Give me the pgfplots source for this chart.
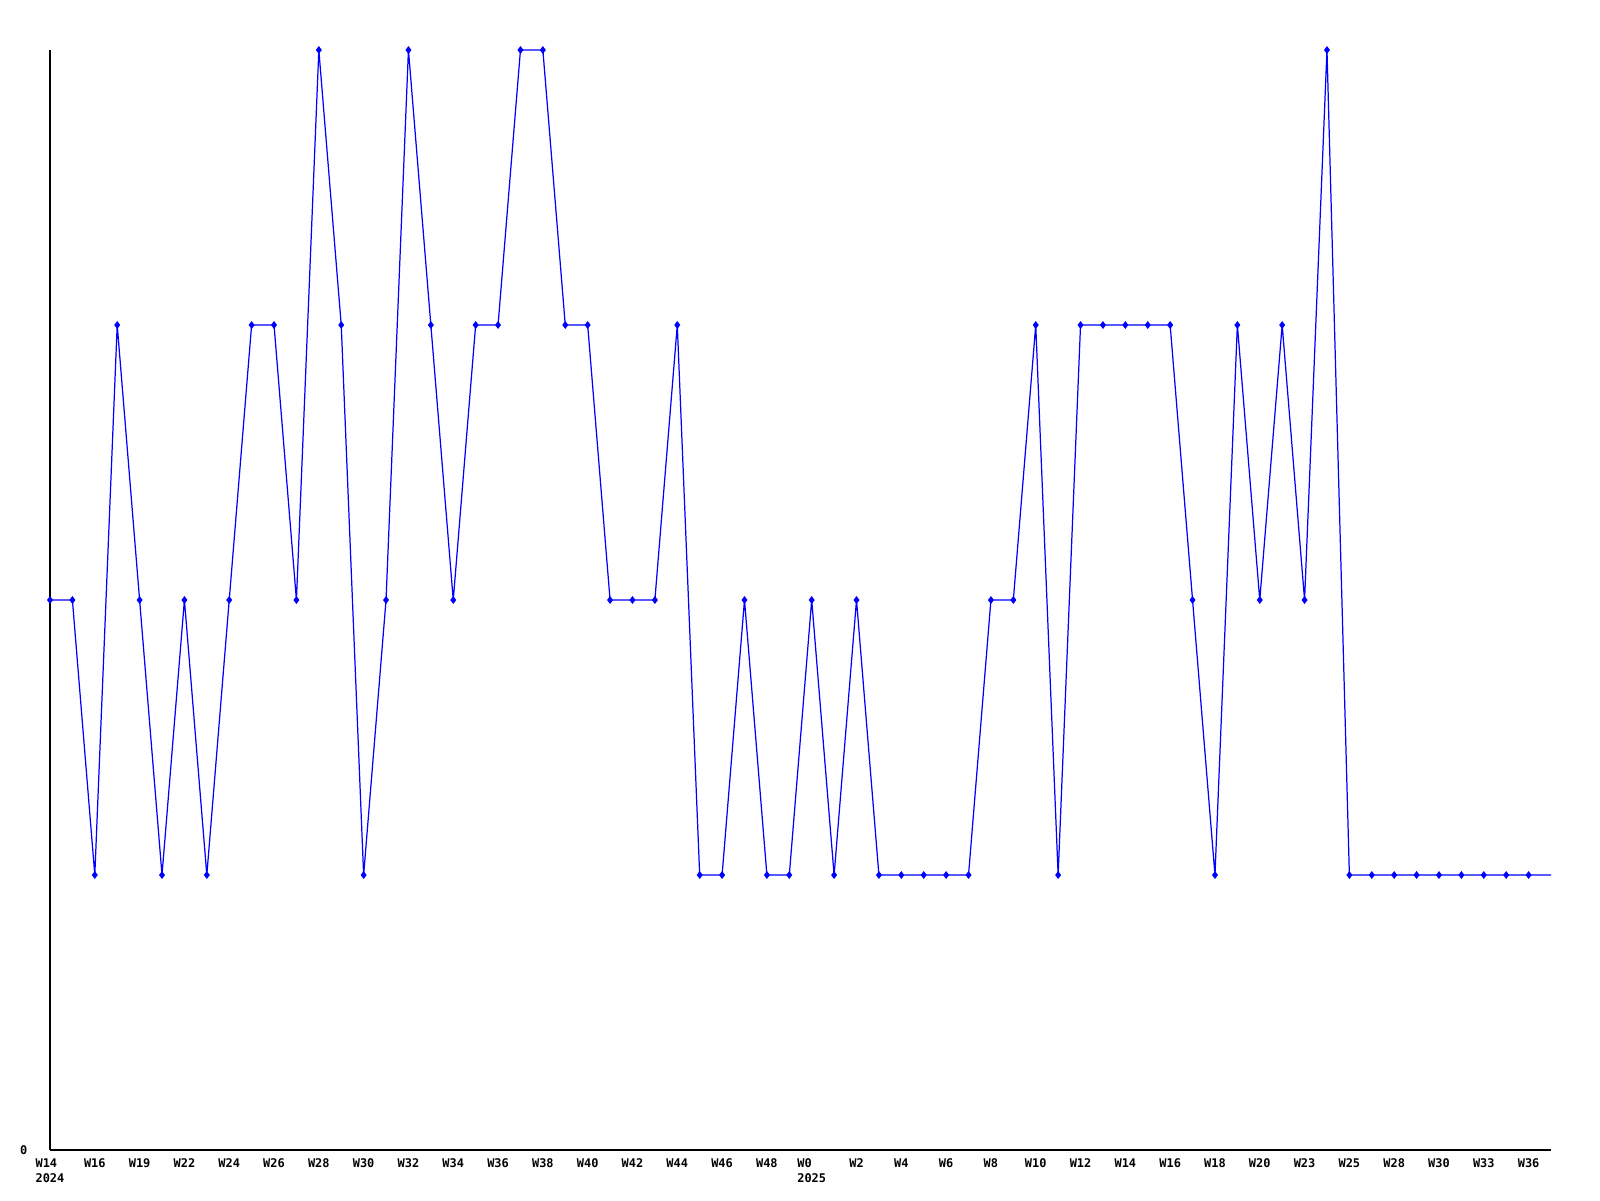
\documentclass[border=0pt]{standalone}
\usepackage{fontspec}
\setmonofont{DejaVu Sans Mono}
\usepackage{pgfplots}
\pgfplotsset{compat=1.18}
\usepackage{pgfplotstable}
\pgfplotstableread{
x y
0 2
1 2
2 1
3 3
4 2
5 1
6 2
7 1
8 2
9 3
10 3
11 2
12 4
13 3
14 1
15 2
16 4
17 3
18 2
19 3
20 3
21 4
22 4
23 3
24 3
25 2
26 2
27 2
28 3
29 1
30 1
31 2
32 1
33 1
34 2
35 1
36 2
37 1
38 1
39 1
40 1
41 1
42 2
43 2
44 3
45 1
46 3
47 3
48 3
49 3
50 3
51 2
52 1
53 3
54 2
55 3
56 2
57 4
58 1
59 1
60 1
61 1
62 1
63 1
64 1
65 1
66 1
67 1
}\datatable
\definecolor{lineblue}{RGB}{0,0,255}
\begin{document}
\begin{tikzpicture}
\useasboundingbox (-0.5cm,-0.5cm) rectangle (15.5cm,11.5cm);
\begin{axis}[
  at={(0,0)}, anchor=south west,
  scale only axis,
  width=15.01cm, height=11cm,
  xmin=0, xmax=67, ymin=0, ymax=4,
  axis x line=bottom, axis y line=left,
  axis line style={-, black, line width=0.3pt},
  clip=false,
  major tick length=0pt,
  ytick={0},
  xtick={0,2,...,66},
  xticklabels={{W14\\2024},W16,W19,W22,W24,W26,W28,W30,W32,W34,W36,W38,W40,W42,W44,W46,W48,{W0\\2025},W2,W4,W6,W8,W10,W12,W14,W16,W18,W20,W23,W25,W28,W30,W33,W36},
  /pgf/number format/assume math mode=true,
  ticklabel style={font=\ttfamily\bfseries\fontsize{3.4}{4.25}\selectfont, inner sep=0pt},
  xticklabel style={align=left, yshift=-0.08cm},
  yticklabel style={xshift=-0.22cm},
]
\addplot[lineblue, line width=0.35pt, mark=none] table[x=x,y=y] {\datatable};
\addplot[only marks, lineblue, mark=diamond*, mark size=0.8pt, restrict x to domain=0:66] table[x=x,y=y] {\datatable};
\end{axis}
\end{tikzpicture}
\end{document}
